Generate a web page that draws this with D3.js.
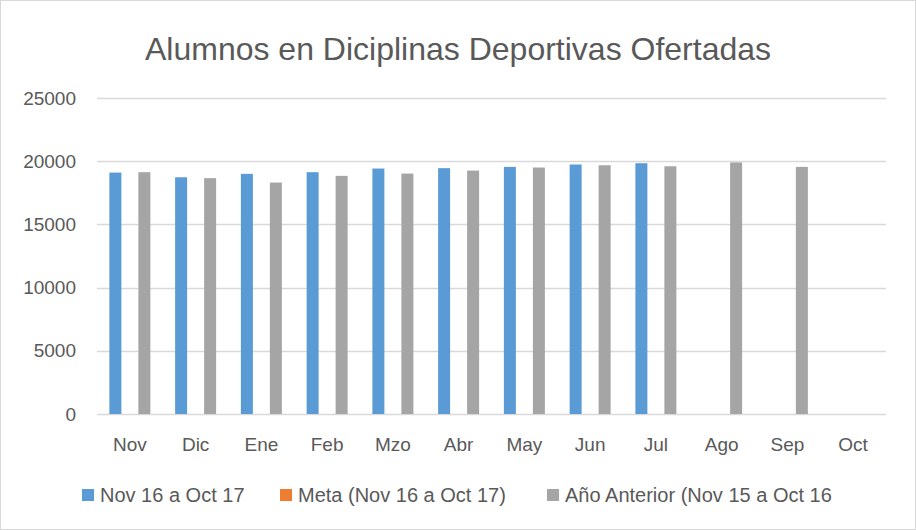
<!DOCTYPE html>
<html lang="es">
<head>
<meta charset="UTF-8">
<title>Alumnos en Diciplinas Deportivas Ofertadas</title>
<script src="https://d3js.org/d3.v7.min.js"></script>
<style>
  body { margin: 0; background: #fff; }
  svg { display: block; font-family: "Liberation Sans", Arial, sans-serif; }
  .tick text { fill: #595959; }
</style>
</head>
<body>
<svg id="chart" width="916" height="530"></svg>
<script>
const months = ["Nov", "Dic", "Ene", "Feb", "Mzo", "Abr", "May", "Jun", "Jul", "Ago", "Sep", "Oct"];
const actual = [19100, 18730, 19000, 19130, 19420, 19450, 19550, 19740, 19840, null, null, null];
const meta = [null, null, null, null, null, null, null, null, null, null, null, null];
const previous = [19130, 18660, 18310, 18840, 19020, 19260, 19500, 19680, 19600, 19900, 19550, null];
const seriesNames = ["Nov 16 a Oct 17", "Meta (Nov 16 a Oct 17)", "Año Anterior (Nov 15 a Oct 16"];
const colors = ["#5b9bd5", "#ed7d31", "#a5a5a5"];
const yTicks = [0, 5000, 10000, 15000, 20000, 25000];

const svg = d3.select("#chart");
const W = 916, H = 530;
const plotLeft = 97, plotRight = 886, plotTop = 98, plotBottom = 414;

// outer border
svg.append("rect")
  .attr("x", 0.5).attr("y", 0.5)
  .attr("width", W - 1).attr("height", H - 1)
  .attr("fill", "#fff").attr("stroke", "#d9d9d9");

svg.append("text")
  .attr("x", 458).attr("y", 60)
  .attr("text-anchor", "middle")
  .attr("font-size", 32)
  .attr("fill", "#595959")
  .text("Alumnos en Diciplinas Deportivas Ofertadas");

const x = d3.scaleBand().domain(months).range([plotLeft, plotRight]);
const y = d3.scaleLinear().domain([0, 25000]).range([plotBottom, plotTop]);
// three series side by side, the middle one (meta) has no values
const sub = d3.scaleBand().domain([0, 1, 2]).range([-20.5, 20.5]).paddingInner(0.172).paddingOuter(0);

// gridlines
svg.append("g")
  .selectAll("line")
  .data(yTicks)
  .join("line")
  .attr("x1", plotLeft).attr("x2", plotRight)
  .attr("y1", d => Math.round(y(d)) + 0.5)
  .attr("y2", d => Math.round(y(d)) + 0.5)
  .attr("stroke", "#d9d9d9")
  .attr("stroke-width", 1.3);

// y axis labels
const yAxis = svg.append("g")
  .attr("transform", `translate(${plotLeft - 18},0)`)
  .call(d3.axisLeft(y).tickValues(yTicks).tickSize(0).tickFormat(d3.format("d")));
yAxis.select(".domain").remove();
yAxis.selectAll("text").attr("font-size", 19).attr("dx", 0);

// x axis labels
const xAxis = svg.append("g")
  .attr("transform", `translate(0,${plotBottom + 20})`)
  .call(d3.axisBottom(x).tickSize(0));
xAxis.select(".domain").remove();
xAxis.selectAll("text").attr("font-size", 19);

// bars
const data = [actual, meta, previous];
data.forEach((vals, si) => {
  svg.append("g")
    .selectAll("rect")
    .data(months.map((m, i) => ({ m, v: vals[i] })).filter(d => d.v != null))
    .join("rect")
    .attr("x", d => x(d.m) + x.bandwidth() / 2 + sub(si))
    .attr("width", sub.bandwidth())
    .attr("y", d => y(d.v))
    .attr("height", d => y(0) - y(d.v))
    .attr("fill", colors[si]);
});

// legend
const legendX = [82, 280, 547];
const legend = svg.append("g");
seriesNames.forEach((name, i) => {
  legend.append("rect")
    .attr("x", legendX[i]).attr("y", 489)
    .attr("width", 12).attr("height", 12)
    .attr("fill", colors[i]);
  legend.append("text")
    .attr("x", legendX[i] + 18).attr("y", 502)
    .attr("font-size", 20)
    .attr("fill", "#595959")
    .text(name);
});
</script>
</body>
</html>
